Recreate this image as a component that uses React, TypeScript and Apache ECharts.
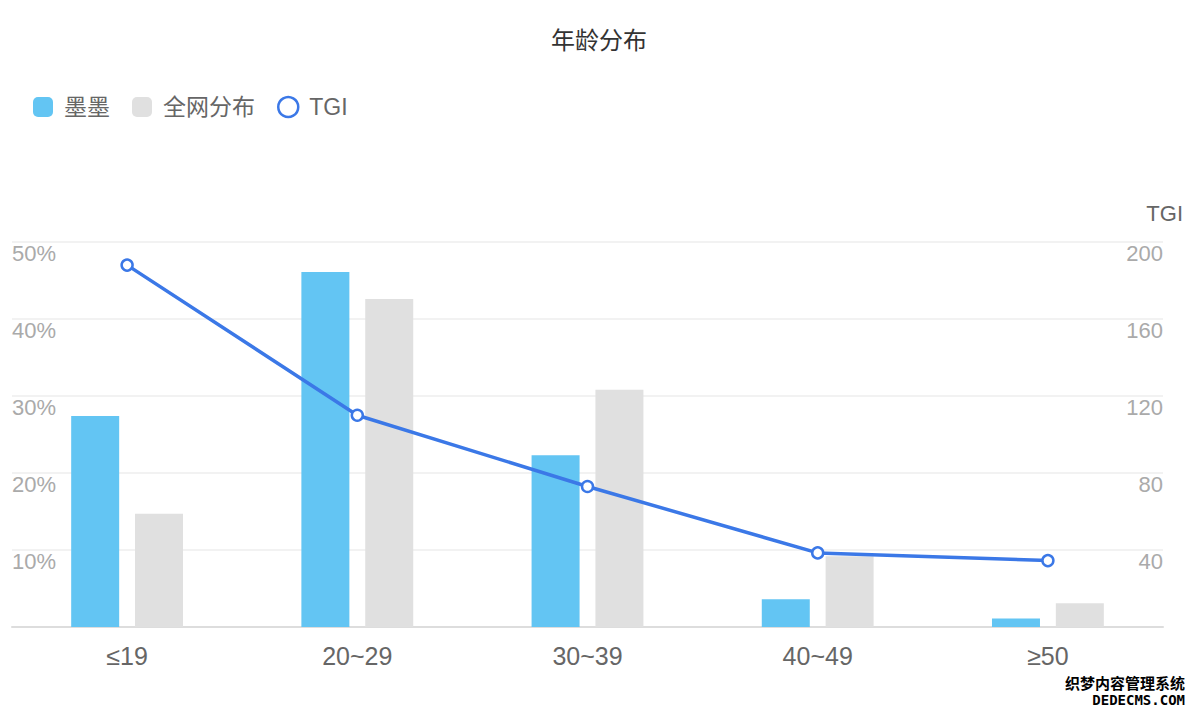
import React, { useEffect, useRef } from "react";
import * as echarts from "echarts";

const categories = ["≤19", "20~29", "30~39", "40~49", "≥50"];
const momoValues = [27.4, 46.1, 22.3, 3.6, 1.1];
const allNetValues = [14.7, 42.6, 30.8, 9.2, 3.1];
const tgiValues = [188, 110, 73, 38.5, 34.5];

const FONT = '"Liberation Sans", "Noto Sans CJK SC", sans-serif';

export default function App() {
  const ref = useRef<HTMLDivElement>(null);
  useEffect(() => {
    if (!ref.current) return;
    const chart = echarts.init(ref.current, undefined, { renderer: "svg" });
    chart.setOption({
      animation: false,
      textStyle: { fontFamily: FONT },
      title: {
        text: "年龄分布",
        left: "center",
        top: 21,
        textStyle: { fontSize: 24, lineHeight: 28, fontWeight: "normal", color: "#333", fontFamily: FONT },
      },
      legend: {
        left: 28,
        top: 90,
        itemWidth: 20,
        itemHeight: 20,
        itemGap: 22,
        textStyle: { fontSize: 23, lineHeight: 24, color: "#666", fontFamily: FONT, padding: [0, 0, 0, 6] },
        data: [
          { name: "墨墨", icon: "roundRect" },
          { name: "全网分布", icon: "roundRect" },
          {
            name: "TGI",
            icon: "circle",
            itemStyle: { color: "#fff", borderColor: "#3b78e7", borderWidth: 2.5 },
          },
        ],
      },
      grid: { left: 12, right: 35, top: 242, bottom: 85 },
      xAxis: {
        type: "category",
        data: categories,
        axisTick: { show: false },
        axisLine: { lineStyle: { color: "#ddd", width: 2 } },
        axisLabel: { fontSize: 25, color: "#666", margin: 16, fontFamily: FONT },
      },
      yAxis: [
        {
          type: "value",
          min: 0,
          max: 50,
          interval: 10,
          axisLine: { show: false },
          axisTick: { show: false },
          splitLine: { lineStyle: { color: "#eee", width: 1.5 } },
          axisLabel: {
            inside: true,
            margin: 0,
            verticalAlign: "top",
            fontSize: 22,
            color: "#aaa",
            fontFamily: FONT,
            formatter: (v: number) => (v === 0 ? "" : v + "%"),
          },
        },
        {
          type: "value",
          name: "TGI",
          min: 0,
          max: 200,
          interval: 40,
          nameGap: 18,
          nameTextStyle: { fontSize: 22, color: "#666", align: "right", padding: [0, -20, 0, 0], fontFamily: FONT },
          axisLine: { show: false },
          axisTick: { show: false },
          splitLine: { show: false },
          axisLabel: {
            inside: true,
            margin: 0,
            verticalAlign: "top",
            fontSize: 22,
            color: "#aaa",
            fontFamily: FONT,
            formatter: (v: number) => (v === 0 ? "" : String(v)),
          },
        },
      ],
      series: [
        {
          name: "墨墨",
          type: "bar",
          data: momoValues,
          barWidth: 48,
          barGap: "33%",
          itemStyle: { color: "#63c5f3" },
        },
        {
          name: "全网分布",
          type: "bar",
          data: allNetValues,
          barWidth: 48,
          barGap: "33%",
          itemStyle: { color: "#e0e0e0" },
        },
        {
          name: "TGI",
          type: "line",
          yAxisIndex: 1,
          data: tgiValues,
          symbol: "circle",
          symbolSize: 11,
          lineStyle: { color: "#3b78e7", width: 3.5 },
          itemStyle: { color: "#fff", borderColor: "#3b78e7", borderWidth: 2.5 },
          z: 5,
        },
      ],
      graphic: [
        {
          type: "text",
          right: 12,
          top: 674,
          style: {
            text: "织梦内容管理系统",
            fontSize: 15,
            fontWeight: "bold",
            fill: "#000",
            stroke: "#fff",
            lineWidth: 2,
            fontFamily: '"Noto Sans CJK SC", sans-serif',
          },
        },
        {
          type: "text",
          right: 12,
          top: 692,
          style: {
            text: "DEDECMS.COM",
            fontSize: 14,
            fontWeight: "bold",
            fill: "#000",
            stroke: "#fff",
            lineWidth: 2,
            fontFamily: '"DejaVu Sans Mono", monospace',
          },
        },
      ],
    });
    return () => chart.dispose();
  }, []);
  return <div ref={ref} style={{ width: 1198, height: 712, position: "absolute", left: 0, top: 0 }} />;
}
